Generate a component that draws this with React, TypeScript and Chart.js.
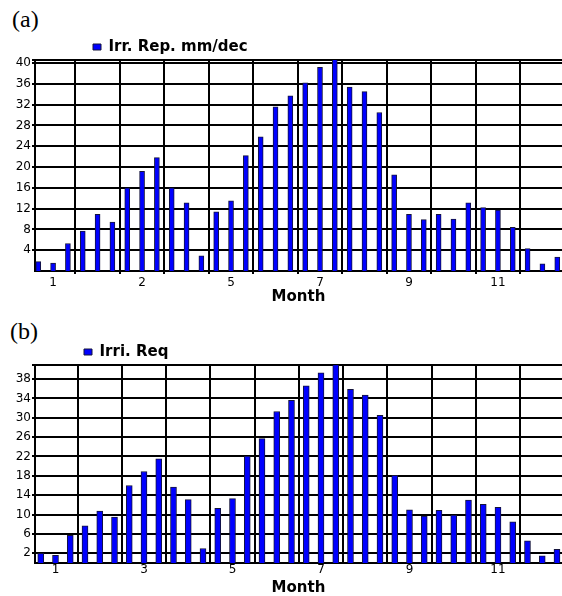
import React, { useEffect, useRef } from 'react';
import { Chart, registerables } from 'chart.js';

Chart.register(...registerables);
Chart.defaults.font.family = 'DejaVu Sans';

// 36 dekads (3 per month), index 0..35
const dekadIndex = [
  0, 1, 2, 3, 4, 5, 6, 7, 8, 9, 10, 11, 12, 13, 14, 15, 16, 17,
  18, 19, 20, 21, 22, 23, 24, 25, 26, 27, 28, 29, 30, 31, 32, 33, 34, 35,
];

// (a) Irr. Rep. mm/dec
const irrRepA = [
  1.8, 1.5, 5.3, 7.7, 10.9, 9.4, 16.0, 19.2, 21.8, 16.0, 13.1, 2.9,
  11.4, 13.5, 22.2, 25.8, 31.6, 33.7, 36.2, 39.2, 40.8, 35.4, 34.5, 30.5,
  18.5, 10.9, 9.9, 10.9, 10.0, 13.1, 12.2, 11.7, 8.4, 4.3, 1.4, 2.7,
];

// (b) Irri. Req
const irriReqB = [
  2.0, 1.6, 5.7, 7.7, 10.7, 9.5, 16.0, 18.9, 21.5, 15.7, 13.1, 3.0,
  11.3, 13.3, 22.1, 25.7, 31.3, 33.6, 36.6, 39.3, 41.0, 35.9, 34.7, 30.5,
  18.1, 11.0, 9.7, 10.9, 9.9, 13.0, 12.1, 11.5, 8.5, 4.6, 1.5, 2.8,
];

// month boundaries (grid lines) and label positions on the dekad axis
const monthBoundaries = [2.5, 5.5, 8.5, 11.5, 14.5, 17.5, 20.5, 23.5, 26.5, 29.5, 32.5];
const xLabelPositions = [1, 7, 13, 19, 25, 31];
const xLabelsA = ['1', '2', '5', '7', '9', '11'];
const xLabelsB = ['1', '3', '5', '7', '9', '11'];

const yTicksA = [4, 8, 12, 16, 20, 24, 28, 32, 36, 40];
const yTicksB = [2, 6, 10, 14, 18, 22, 26, 30, 34, 38];

const legendShift = {
  id: 'legendShift',
  afterLayout(chart: any, _args: any, opts: any) {
    const lg = chart.legend;
    if (!lg || !opts) return;
    const dx = opts.dx || 0;
    const dy = opts.dy || 0;
    lg.left += dx;
    lg.right += dx;
    lg.top += dy;
    lg.bottom += dy;
  },
};

type Params = {
  label: string;
  values: number[];
  barThickness: number;
  xMin: number;
  xMax: number;
  xLabels: string[];
  xAxisHeight: number;
  xTickPad: number;
  xDrawTicks: boolean;
  titlePadB: number;
  yMax: number;
  yTicks: number[];
  legendDx: number;
};

function buildConfig(p: Params): any {
  const xTickValues = [...xLabelPositions, ...monthBoundaries].sort((a, b) => a - b);
  return {
    type: 'bar',
    data: {
      datasets: [
        {
          label: p.label,
          data: dekadIndex.map((x, i) => ({ x, y: p.values[i] })),
          backgroundColor: '#0000ff',
          borderColor: '#14143c',
          borderWidth: 1,
          barThickness: p.barThickness,
        },
      ],
    },
    options: {
      responsive: false,
      animation: false,
      layout: { padding: { top: 25, left: 0, right: 0, bottom: 0 } },
      plugins: {
        legend: {
          display: true,
          position: 'top',
          align: 'start',
          labels: {
            boxWidth: 8,
            boxHeight: 6,
            padding: 10,
            color: '#000',
            font: { family: 'DejaVu Sans', size: 15, weight: 'bold' },
          },
        },
        tooltip: { enabled: false },
        legendShift: { dx: p.legendDx, dy: 4.5 },
      },
      scales: {
        x: {
          type: 'linear',
          offset: false,
          min: p.xMin,
          max: p.xMax,
          afterFit: (s: any) => {
            s.height = p.xAxisHeight;
          },
          afterBuildTicks: (s: any) => {
            s.ticks = xTickValues.map((v) => ({ value: v }));
          },
          ticks: {
            autoSkip: false,
            maxRotation: 0,
            minRotation: 0,
            padding: p.xTickPad,
            color: '#000',
            font: { family: 'DejaVu Sans', size: 12 },
            callback: (v: number) => {
              const k = xLabelPositions.indexOf(v);
              return k >= 0 ? p.xLabels[k] : '';
            },
          },
          grid: {
            offset: false,
            color: (ctx: any) =>
              ctx.tick && xLabelPositions.includes(ctx.tick.value) ? 'rgba(0,0,0,0)' : '#000',
            lineWidth: 2,
            drawTicks: p.xDrawTicks,
            tickLength: 3,
          },
          border: { color: '#000', width: 2 },
          title: {
            display: true,
            text: 'Month',
            color: '#000',
            font: { family: 'DejaVu Sans', size: 15, weight: 'bold', lineHeight: 1 },
            padding: { top: 0, bottom: p.titlePadB },
          },
        },
        y: {
          min: 0,
          max: p.yMax,
          afterFit: (s: any) => {
            s.width = 35;
          },
          afterBuildTicks: (s: any) => {
            s.ticks = [...p.yTicks, p.yMax].map((v) => ({ value: v }));
          },
          ticks: {
            autoSkip: false,
            padding: 1,
            color: '#000',
            font: { family: 'DejaVu Sans', size: 12 },
            callback: (v: number) => (p.yTicks.includes(v) ? String(v) : ''),
          },
          grid: { color: '#000', lineWidth: 2, tickLength: 3 },
          border: { color: '#000', width: 2 },
        },
      },
    },
    plugins: [legendShift],
  };
}

function BarPanel({ params, top, height }: { params: Params; top: number; height: number }) {
  const ref = useRef<HTMLCanvasElement | null>(null);
  useEffect(() => {
    if (!ref.current) return;
    const chart = new Chart(ref.current, buildConfig(params));
    return () => chart.destroy();
  }, []);
  return (
    <canvas
      ref={ref}
      width={562}
      height={height}
      style={{ position: 'absolute', left: 0, top, width: 562, height, display: 'block' }}
    />
  );
}

const panelLabelStyle: React.CSSProperties = {
  position: 'absolute',
  fontFamily: '"Liberation Serif", "Times New Roman", serif',
  fontSize: 24,
  lineHeight: '24px',
  color: '#000',
};

export default function App() {
  const paramsA: Params = {
    label: 'Irr. Rep. mm/dec',
    values: irrRepA,
    barThickness: 5,
    xMin: -0.22,
    xMax: 35.32,
    xLabels: xLabelsA,
    xAxisHeight: 35,
    xTickPad: 2,
    xDrawTicks: true,
    titlePadB: 1.5,
    yMax: 40.6,
    yTicks: yTicksA,
    legendDx: 83,
  };
  const paramsB: Params = {
    label: 'Irri. Req',
    values: irriReqB,
    barThickness: 6,
    xMin: -0.39,
    xMax: 35.34,
    xLabels: xLabelsB,
    xAxisHeight: 33,
    xTickPad: 0,
    xDrawTicks: false,
    titlePadB: 0.5,
    yMax: 40.9,
    yTicks: yTicksB,
    legendDx: 74,
  };
  return (
    <div style={{ position: 'absolute', left: 0, top: 0, width: 562, height: 596, background: '#fff' }}>
      <div style={{ ...panelLabelStyle, left: 12, top: 6.5 }}>(a)</div>
      <BarPanel params={paramsA} top={0} height={306} />
      <div style={{ ...panelLabelStyle, left: 10, top: 318.5 }}>(b)</div>
      <BarPanel params={paramsB} top={305} height={291} />
    </div>
  );
}
